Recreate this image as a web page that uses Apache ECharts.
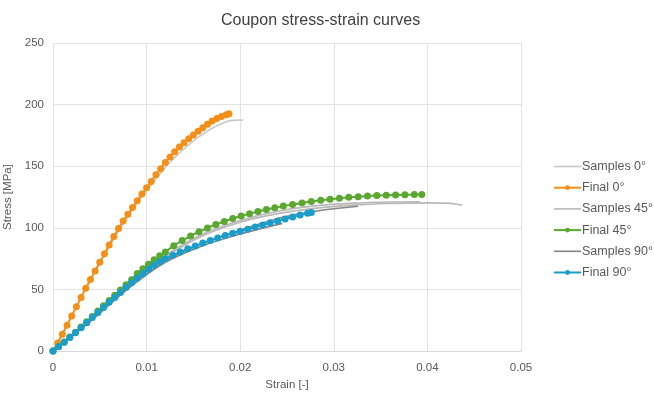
<!DOCTYPE html>
<html>
<head>
<meta charset="utf-8">
<script src="https://cdn.jsdelivr.net/npm/echarts@6/dist/echarts.min.js"></script>
<style>
    html, body { margin: 0; padding: 0; background: #fff; }
    #chart { width: 654px; height: 394px; }
</style>
</head>
<body>
<div id="chart"></div>
<script>
// values: [strain, stress MPa]
var samples_0 = [
    [[0, 0], [0.002, 28.5], [0.004, 57.5], [0.006, 84.5], [0.008, 109], [0.01, 130],
     [0.012, 149], [0.013, 157], [0.014, 164], [0.015, 170.5], [0.016, 176],
     [0.017, 180.8], [0.018, 184.5], [0.0186, 186.3], [0.019, 187], [0.0196, 187.4],
     [0.0203, 187.4]]
];

var final_0 = [
    [0, 0], [0.0005, 6.5], [0.001, 13.5], [0.0015, 21], [0.002, 28.5], [0.0025, 36],
    [0.003, 43.5], [0.0035, 51], [0.004, 58], [0.0045, 65], [0.005, 72], [0.0055, 79],
    [0.006, 86], [0.0065, 93], [0.007, 99.5], [0.0075, 105.5], [0.008, 111],
    [0.0085, 116.5], [0.009, 122], [0.0095, 127.5], [0.01, 132.5], [0.0105, 137.5],
    [0.011, 143], [0.0115, 148], [0.012, 153], [0.0125, 157.5], [0.013, 161.8],
    [0.0135, 165.6], [0.014, 169], [0.0145, 172.2], [0.015, 175.3], [0.0155, 178.3],
    [0.016, 181.3], [0.0165, 184.1], [0.017, 186.6], [0.0175, 188.7], [0.018, 190.4],
    [0.0185, 191.8], [0.0188, 192.6]
];

var samples_45 = [
    [[0, 0], [0.004, 26], [0.008, 52], [0.012, 76], [0.016, 93.5], [0.02, 104.5],
     [0.024, 111.5], [0.028, 115.8], [0.032, 118.4], [0.036, 119.7], [0.04, 120.2],
     [0.042, 120], [0.043, 119.3], [0.0437, 118.3]],
    [[0, 0], [0.004, 26.5], [0.008, 53], [0.012, 77.5], [0.016, 95], [0.02, 106],
     [0.024, 113.5], [0.028, 117.8], [0.032, 120], [0.036, 121], [0.0392, 121.2]]
];

var final_45 = [
    [0, 0], [0.0006, 3.6], [0.0012, 7.4], [0.0018, 11.3], [0.0024, 15.3], [0.003, 19.5],
    [0.0036, 23.8], [0.0042, 28.1], [0.0048, 32.4], [0.0054, 36.7], [0.006, 41],
    [0.0066, 45.3], [0.0072, 49.6], [0.0078, 53.8], [0.0084, 57.9], [0.009, 63],
    [0.0096, 66.8], [0.0102, 70.5], [0.0108, 74], [0.0114, 77.3], [0.012, 80.4],
    [0.0129, 85.5], [0.0138, 89.6], [0.0147, 93.4], [0.0156, 96.8], [0.0165, 99.9],
    [0.0174, 102.7], [0.0183, 105.2], [0.0192, 107.5], [0.0201, 109.6], [0.021, 111.5],
    [0.0219, 113.2], [0.0228, 114.8], [0.0237, 116.3], [0.0246, 117.6], [0.0256, 118.9],
    [0.0266, 120.2], [0.0276, 121.3], [0.0286, 122.3], [0.0296, 123.2], [0.0306, 124],
    [0.0316, 124.7], [0.0326, 125.3], [0.0336, 125.8], [0.0346, 126.2], [0.0356, 126.5],
    [0.0366, 126.7], [0.0376, 126.9], [0.0386, 127], [0.0394, 127.1]
];

var samples_90 = [
    [[0, 0], [0.004, 24], [0.008, 50.5], [0.012, 72], [0.016, 85.5], [0.02, 95],
     [0.0245, 103.6]],
    [[0, 0], [0.004, 25], [0.008, 51], [0.012, 73], [0.016, 87.5], [0.02, 98],
     [0.024, 107.5], [0.0264, 111.5], [0.028, 113.5], [0.03, 115.5], [0.0326, 117.5]]
];

var final_90 = [
    [0, 0], [0.0006, 3.5], [0.0012, 7.2], [0.0018, 11], [0.0024, 14.9], [0.003, 18.9],
    [0.0036, 23], [0.0042, 27.2], [0.0048, 31.3], [0.0054, 35.4], [0.006, 39.5],
    [0.0066, 43.5], [0.0072, 47.5], [0.0078, 51.5], [0.0084, 55.3], [0.009, 59],
    [0.0096, 62.7], [0.0102, 66.3], [0.0108, 69.6], [0.0114, 72.4], [0.012, 74.8],
    [0.0128, 77.7], [0.0136, 80.3], [0.0144, 82.9], [0.0152, 85.3], [0.016, 87.6],
    [0.0168, 89.7], [0.0176, 91.8], [0.0184, 93.7], [0.0192, 95.5], [0.02, 97.2],
    [0.0208, 98.9], [0.0216, 100.6], [0.0224, 102.3], [0.0232, 104], [0.024, 105.6],
    [0.0248, 107.2], [0.0256, 108.8], [0.0264, 110.3], [0.0272, 111.8], [0.0276, 112.5]
];

var legend_names = ['Samples 0°', 'Final 0°', 'Samples 45°', 'Final 45°', 'Samples 90°', 'Final 90°'];
var x_ticks = [0, 0.05, 0.01];
var y_ticks = [0, 250, 50];

var FONT = 'Liberation Sans';
var TEXT_COLOR = '#595959';
var LINE_ICON = 'path://M0,0 L27,0 L27,1.6 L0,1.6 Z';

function sample_series(name, curves, color)
{
    return curves.map(function (curve) {
        return {
            name: name,
            type: 'line',
            data: curve,
            showSymbol: false,
            symbol: 'none',
            smooth: 0.3,
            lineStyle: { color: color, width: 1.6 },
            itemStyle: { color: color },
            silent: true
        };
    });
}

function final_series(name, data, color)
{
    return {
        name: name,
        type: 'line',
        data: data,
        symbol: 'circle',
        symbolSize: 7,
        lineStyle: { color: color, width: 2 },
        itemStyle: { color: color },
        silent: true
    };
}

var series = [].concat(
    sample_series(legend_names[0], samples_0, '#c9c9c9'),
    [final_series(legend_names[1], final_0, '#f39019')],
    sample_series(legend_names[2], samples_45, '#b8b8b8'),
    [final_series(legend_names[3], final_45, '#5aa830')],
    sample_series(legend_names[4], samples_90, '#858585'),
    [final_series(legend_names[5], final_90, '#1a9dcb')]
);

// sample entries show a plain line, final entries a line with a dot
var legend_data = legend_names.map(function (name, i) {
    return i % 2 == 0 ? { name: name, icon: LINE_ICON } : { name: name };
});

var mychart = echarts.init(document.getElementById('chart'), null, { renderer: 'canvas' });
var option = {
    animation: false,
    backgroundColor: '#ffffff',
    textStyle: { fontFamily: FONT },
    title: {
        text: 'Coupon stress-strain curves',
        left: 216,
        top: 8,
        textStyle: { fontFamily: FONT, fontSize: 16, fontWeight: 'normal', color: '#404040' }
    },
    grid: { left: 53, right: 133, top: 43, bottom: 43, outerBoundsMode: 'none' },
    legend: {
        data: legend_data,
        orient: 'vertical',
        left: 548,
        top: 155,
        itemWidth: 27,
        itemHeight: 6,
        itemGap: 8.2,
        textStyle: { fontFamily: FONT, fontSize: 12.5, color: TEXT_COLOR, padding: [0, 0, 0, -4] }
    },
    xAxis: {
        type: 'value',
        min: x_ticks[0],
        max: x_ticks[1],
        interval: x_ticks[2],
        name: 'Strain [-]',
        nameLocation: 'middle',
        nameGap: 28,
        nameTextStyle: { fontFamily: FONT, fontSize: 11.5, color: TEXT_COLOR },
        axisLine: { show: true, lineStyle: { color: '#d9d9d9', width: 1 } },
        axisTick: { show: false },
        axisLabel: { fontFamily: FONT, fontSize: 11.5, color: TEXT_COLOR, margin: 11 },
        splitLine: { show: true, lineStyle: { color: '#e3e3e3', width: 1 } }
    },
    yAxis: {
        type: 'value',
        min: y_ticks[0],
        max: y_ticks[1],
        interval: y_ticks[2],
        name: 'Stress [MPa]',
        nameLocation: 'middle',
        nameGap: 38,
        nameTextStyle: { fontFamily: FONT, fontSize: 11.5, color: TEXT_COLOR },
        axisLine: { show: false },
        axisTick: { show: false },
        axisLabel: { fontFamily: FONT, fontSize: 11.5, color: TEXT_COLOR, margin: 9 },
        splitLine: { show: true, lineStyle: { color: '#e3e3e3', width: 1 } }
    },
    series: series
};
mychart.setOption(option);
</script>
</body>
</html>
